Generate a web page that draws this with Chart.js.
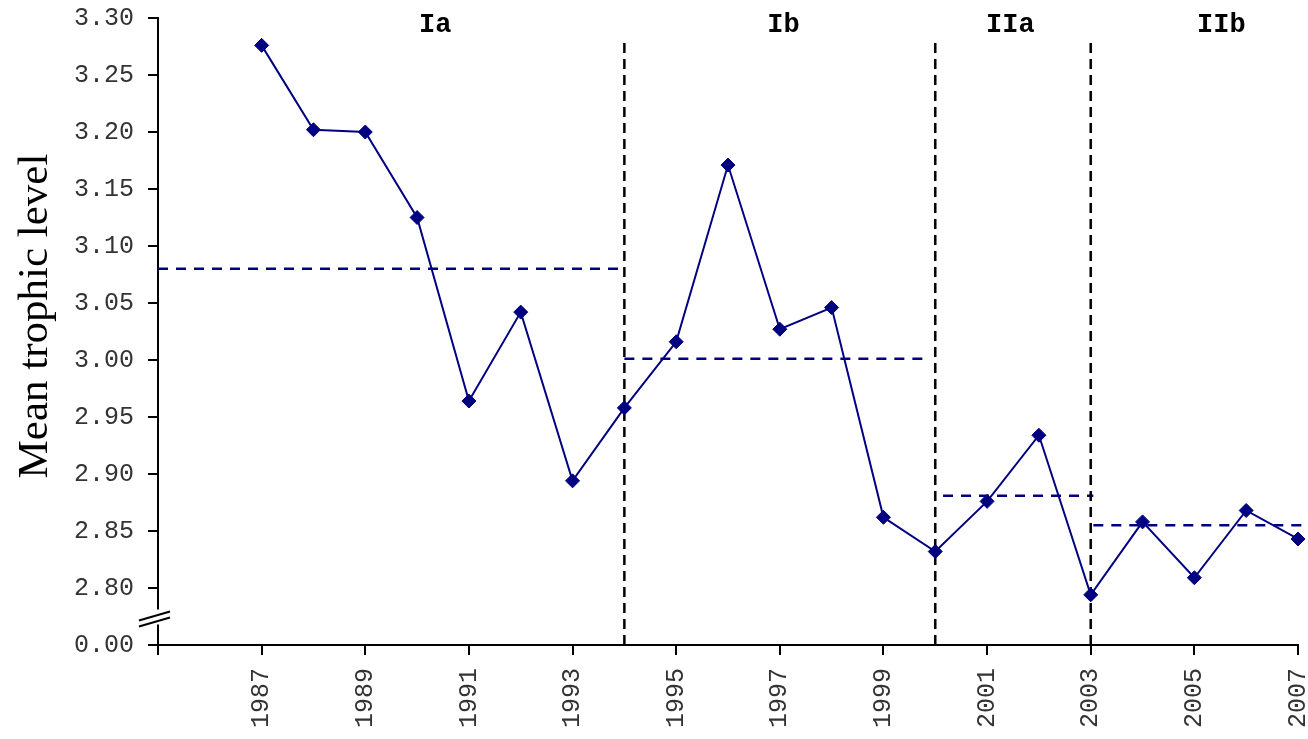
<!DOCTYPE html>
<html>
<head>
<meta charset="utf-8">
<script src="https://cdn.jsdelivr.net/npm/chart.js@4/dist/chart.umd.min.js"></script>
<style>
  html, body { margin: 0; padding: 0; background: #fff; }
  #wrap { width: 1308px; height: 739px; }
</style>
</head>
<body>
<div id="wrap"><canvas id="c" width="1308" height="739"></canvas></div>
<script>
// Annual mean trophic level of the catch
const years = [1987, 1988, 1989, 1990, 1991, 1992, 1993, 1994, 1995, 1996, 1997,
               1998, 1999, 2000, 2001, 2002, 2003, 2004, 2005, 2006, 2007];
const trophicLevel = [3.276, 3.202, 3.200, 3.125, 2.964, 3.042, 2.894, 2.958, 3.016, 3.171, 3.027,
                      3.046, 2.862, 2.832, 2.876, 2.934, 2.794, 2.858, 2.809, 2.868, 2.843];

// Periods and their mean levels
const periodNames = ['Ia', 'Ib', 'IIa', 'IIb'];
const periodMeans = [3.080, 3.001, 2.881, 2.855];
const meanFrom = [1985, 1994, 2000.15, 2003.05];
const meanTo = [1994, 1999.85, 2003.05, 2007.15];
const periodBreaks = [1994, 2000, 2003];

// Axis ticks (the lowest y tick sits below a broken axis and reads 0.00)
const yTickValues = [2.75, 2.80, 2.85, 2.90, 2.95, 3.00, 3.05, 3.10, 3.15, 3.20, 3.25, 3.30];
const yTickLabels = ['0.00', '2.80', '2.85', '2.90', '2.95', '3.00', '3.05', '3.10', '3.15', '3.20', '3.25', '3.30'];
const xTickValues = [1985, 1987, 1989, 1991, 1993, 1995, 1997, 1999, 2001, 2003, 2005, 2007];
const xTickLabels = ['', '1987', '1989', '1991', '1993', '1995', '1997', '1999', '2001', '2003', '2005', '2007'];

const NAVY = '#000080';
const Y_MIN = 2.75, Y_MAX = 3.30;
const DIVIDER_TOP = 3.283;
const LABEL_X = [1990.35, 1997.07, 2001.45, 2005.52];
const MONO = '"Liberation Mono", "DejaVu Sans Mono", monospace';

const datasets = [];

// period mean levels (dashed navy)
periodMeans.forEach((m, i) => {
  datasets.push({
    data: [{ x: meanFrom[i], y: m }, { x: meanTo[i], y: m }],
    borderColor: NAVY, borderWidth: 2.5, borderDash: [10, 8],
    pointRadius: 0, clip: false, order: 3
  });
});

// period boundaries (dashed black)
periodBreaks.forEach(b => {
  datasets.push({
    data: [{ x: b, y: Y_MIN }, { x: b, y: DIVIDER_TOP }],
    borderColor: '#000', borderWidth: 2.5, borderDash: [10, 6],
    pointRadius: 0, order: 2
  });
});

// annual series
datasets.push({
  data: years.map((y, i) => ({ x: y, y: trophicLevel[i] })),
  borderColor: NAVY, borderWidth: 2, backgroundColor: NAVY,
  pointStyle: 'rectRot', pointRadius: 7, pointBackgroundColor: NAVY,
  pointBorderColor: NAVY, pointBorderWidth: 1, order: 1, clip: false
});

const extras = {
  id: 'extras',
  afterDraw(chart) {
    const ctx = chart.ctx;
    const xs = chart.scales.x, ys = chart.scales.y;
    ctx.save();
    // period names
    ctx.font = 'bold 27px ' + MONO;
    ctx.fillStyle = '#000';
    ctx.textAlign = 'center';
    ctx.textBaseline = 'middle';
    periodNames.forEach((n, i) => {
      ctx.fillText(n, xs.getPixelForValue(LABEL_X[i]), 25);
    });
    // axis title
    ctx.save();
    ctx.translate(36, 316);
    ctx.rotate(-Math.PI / 2);
    ctx.font = '43px "Liberation Serif", "Times New Roman", serif';
    ctx.fillText('Mean trophic level', 0, 0);
    ctx.restore();
    // axis break marks between 0.00 and 2.80
    const ax = xs.left;
    const yb = (ys.getPixelForValue(2.75) + ys.getPixelForValue(2.80)) / 2;
    ctx.fillStyle = '#fff';
    ctx.fillRect(ax - 4, yb - 7, 8, 15);
    ctx.strokeStyle = '#000';
    ctx.lineWidth = 2;
    ctx.beginPath();
    ctx.moveTo(ax - 19, yb + 4); ctx.lineTo(ax + 12, yb - 5);
    ctx.moveTo(ax - 19, yb + 10); ctx.lineTo(ax + 12, yb + 1);
    ctx.stroke();
    ctx.restore();
  }
};

new Chart(document.getElementById('c'), {
  type: 'line',
  data: { datasets },
  options: {
    responsive: false,
    animation: false,
    layout: { padding: { top: 18, right: 10, left: 0, bottom: 0 } },
    plugins: { legend: { display: false }, tooltip: { enabled: false } },
    scales: {
      x: {
        type: 'linear', min: 1985, max: 2007,
        afterBuildTicks: s => { s.ticks = xTickValues.map(v => ({ value: v })); },
        afterFit: s => { s.height = 94; s.paddingLeft = 0; s.paddingRight = 0; },
        grid: { display: true, drawOnChartArea: false, drawTicks: true, tickLength: 10, color: '#000', lineWidth: 2 },
        border: { display: true, color: '#000', width: 2 },
        ticks: {
          autoSkip: false, maxRotation: 90, minRotation: 90, padding: 13,
          color: '#333', font: { family: MONO, size: 25 },
          callback: v => xTickLabels[xTickValues.indexOf(v)] ?? ''
        }
      },
      y: {
        type: 'linear', min: Y_MIN, max: Y_MAX,
        afterBuildTicks: s => { s.ticks = yTickValues.map(v => ({ value: v })); },
        afterFit: s => { s.width = 158; s.paddingTop = 0; s.paddingBottom = 0; },
        grid: { display: true, drawOnChartArea: false, drawTicks: true, tickLength: 10, color: '#000', lineWidth: 2 },
        border: { display: true, color: '#000', width: 2 },
        ticks: {
          autoSkip: false, padding: 14,
          color: '#333', font: { family: MONO, size: 25 },
          callback: v => {
            const i = yTickValues.findIndex(t => Math.abs(t - v) < 1e-6);
            return i >= 0 ? yTickLabels[i] : '';
          }
        }
      }
    }
  },
  plugins: [extras]
});
</script>
</body>
</html>
